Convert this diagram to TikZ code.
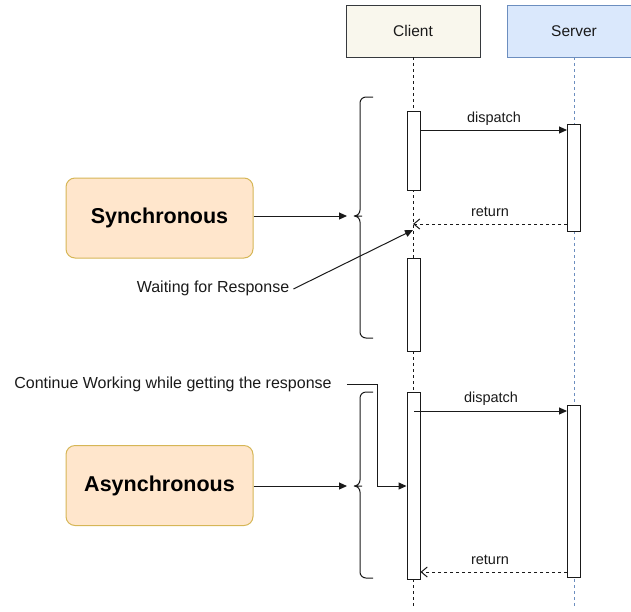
\documentclass[tikz,border=0pt]{standalone}
\usepackage{fontspec}
\setmainfont{Liberation Sans}
\usetikzlibrary{arrows.meta}
\definecolor{clientfill}{HTML}{F9F7ED}
\definecolor{clientdraw}{HTML}{36393D}
\definecolor{serverfill}{HTML}{DAE8FC}
\definecolor{serverdraw}{HTML}{6C8EBF}
\definecolor{modefill}{HTML}{FFE6CC}
\definecolor{modedraw}{HTML}{D6B656}
\definecolor{ink}{HTML}{1A1A1A}
\tikzset{
  px/.style={x=1pt,y=-1pt},
  head/.style={draw=#1, line width=0.9pt, minimum width=134pt, minimum height=52pt, inner sep=0pt, font=\fontsize{15.5}{18}\selectfont, text=ink},
  actbox/.style={draw=ink, fill=white, line width=1pt, inner sep=0pt, minimum width=13pt},
  modebox/.style={draw=modedraw, fill=modefill, rounded corners=9pt, line width=1pt, minimum width=187pt, minimum height=80pt, inner sep=0pt, font=\fontsize{21.5}{24}\selectfont\bfseries, text=black},
  lifeline/.style={dashed, dash pattern=on 3pt off 3pt, line width=0.7pt},
  msg/.style={-{Triangle[length=8pt,width=7pt]}, line width=1pt, ink},
  ret/.style={-{Straight Barb[length=6pt,width=10pt]}, dashed, dash pattern=on 3pt off 3pt, line width=1pt, ink},
  lbl/.style={font=\fontsize{14.5}{16}\selectfont, text=ink, inner sep=0pt},
  note/.style={font=\fontsize{16}{18}\selectfont, text=ink, inner sep=1pt},
  bracestyle/.style={line width=1pt, ink, rounded corners=6pt},
}
\begin{document}
\begin{tikzpicture}[px]
\path[use as bounding box] (0,0) rectangle (631,611);
\clip (0,0) rectangle (631,611);
% header boxes
\node[head=clientdraw, fill=clientfill] (client) at (413,31) {Client};
\node[head=serverdraw, fill=serverfill] (server) at (574,31) {Server};
\coordinate (cend) at (413,608);
\coordinate (send) at (574,608);
\draw[lifeline, ink] (client.south) -- (cend);
\draw[lifeline, serverdraw] (server.south) -- (send);
% activations
\node[actbox, minimum height=79pt] (c1) at (413.5,150.5) {};
\node[actbox, minimum height=107pt] (s1) at (574,177.5) {};
\node[actbox, minimum height=93pt] (c2) at (413.5,304.5) {};
\node[actbox, minimum height=187pt] (c3) at (413.5,485.5) {};
\node[actbox, minimum height=172pt] (s2) at (574,491) {};
% sync messages
\coordinate (d1a) at (c1.east |- 0,130);
\coordinate (d1b) at (s1.west |- 0,130);
\draw[msg] (d1a) -- (d1b);
\node[lbl] (d1l) at (494,119) {dispatch};
\coordinate (r1a) at (s1.west |- 0,224);
\coordinate (r1b) at (413,224);
\draw[ret] (r1a) -- (r1b);
\node[lbl] (r1l) at (490,212) {return};
% async messages
\coordinate (d2a) at (414,411);
\coordinate (d2b) at (s2.west |- 0,411);
\draw[msg] (d2a) -- (d2b);
\node[lbl] (d2l) at (491,399) {dispatch};
\coordinate (r2a) at (s2.west |- 0,572);
\coordinate (r2b) at (c3.east |- 0,572);
\draw[ret] (r2a) -- (r2b);
\node[lbl] (r2l) at (490,560) {return};
% braces
\coordinate (b1) at (356,216);
\coordinate (b1in) at (347,216);
\draw[bracestyle] (373,97) -- (360,97) -- (360,216) -- (b1) -- (360,216) -- (360,338) -- (373,338);
\coordinate (b2) at (356,486);
\coordinate (b2in) at (347,486);
\draw[bracestyle] (373,392) -- (360,392) -- (360,486) -- (b2) -- (360,486) -- (360,578) -- (373,578);
% mode boxes
\node[modebox] (sync) at (159.5,218) {Synchronous};
\node[modebox] (async) at (159.5,485.5) {Asynchronous};
\draw[msg] (sync.east |- b1in) -- (b1in);
\draw[msg] (async.east |- b2in) -- (b2in);
% notes
\node[note] (wait) at (213,288) {Waiting for Response};
\coordinate (waittip) at (413,230);
\draw[msg] (wait.east) ++(3pt,-1pt) -- (waittip);
\node[note] (cont) at (173,384) {Continue Working while getting the response};
\draw[msg] ([xshift=14pt]cont.east) -| (377,486) -- (c3.west |- 0,486);
\end{tikzpicture}
\end{document}
